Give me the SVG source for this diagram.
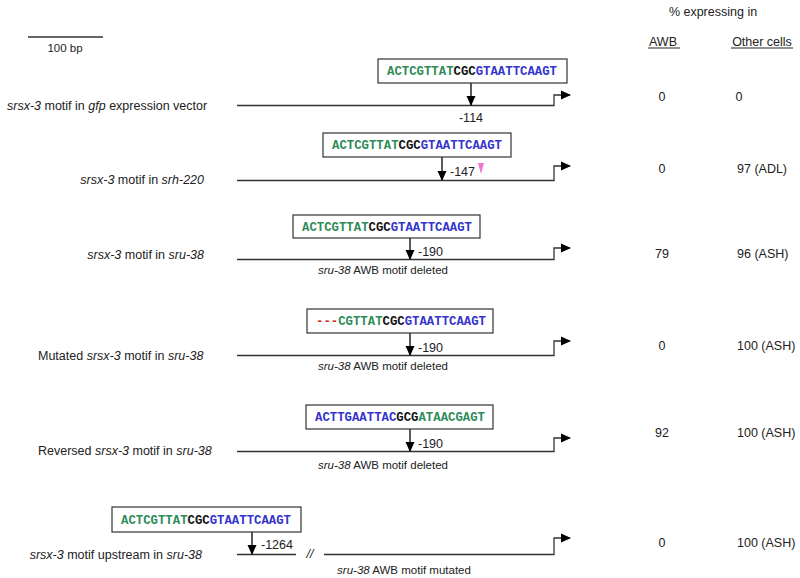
<svg xmlns="http://www.w3.org/2000/svg" width="800" height="578" viewBox="0 0 800 578">
<defs>
<marker id="ah" viewBox="0 0 10 10" refX="9" refY="5" markerWidth="10" markerHeight="10" markerUnits="userSpaceOnUse" orient="auto"><path d="M0,0.5 L10,5 L0,9.5 Z" fill="#000" stroke="none"/></marker>
</defs>
<style>
.t{font-family:"Liberation Sans",Arial,sans-serif;font-size:12.5px;fill:#222}
.s{font-family:"Liberation Sans",Arial,sans-serif;font-size:11.5px;fill:#222}
.i{font-style:italic}
.seq{font-family:"Liberation Mono","Courier New",monospace;font-size:12.3px;font-weight:bold}
.g{fill:#2e8b57}.b{fill:#3333cc}.k{fill:#111}.r{fill:#dd2222}
.box{fill:#fff;stroke:#333;stroke-width:1.2}
.ln{fill:none;stroke:#333;stroke-width:1.3}
.ar{fill:none;stroke:#000;stroke-width:1.3}
.m{text-anchor:middle}
.e{text-anchor:end}
</style>
<rect width="800" height="578" fill="#fff"/>
<g id="scale">
<line x1="28" y1="37" x2="103" y2="37" class="ln"/>
<text x="65" y="52" class="s m">100 bp</text>
</g>
<g id="header">
<text x="713" y="16" class="t m">% expressing in</text>
<text x="663" y="46" class="t m">AWB</text>
<line x1="648" y1="48" x2="680" y2="48" stroke="#222" stroke-width="1"/>
<text x="762" y="46" class="t m">Other cells</text>
<line x1="731" y1="48" x2="793" y2="48" stroke="#222" stroke-width="1"/>
</g>
<g id="connectors">
<polyline points="237,105.5 554,105.5 554,95 570,95" class="ln" marker-end="url(#ah)"/>
<line x1="471" y1="83" x2="471" y2="105" class="ar" marker-end="url(#ah)"/>
<polyline points="237,180.5 554,180.5 554,166 570,166" class="ln" marker-end="url(#ah)"/>
<line x1="442" y1="157" x2="442" y2="180" class="ar" marker-end="url(#ah)"/>
<polyline points="237,259.5 554,259.5 554,248 570,248" class="ln" marker-end="url(#ah)"/>
<line x1="410" y1="237" x2="410" y2="259" class="ar" marker-end="url(#ah)"/>
<polyline points="237,355.5 554,355.5 554,341 570,341" class="ln" marker-end="url(#ah)"/>
<line x1="410" y1="333" x2="410" y2="355" class="ar" marker-end="url(#ah)"/>
<polyline points="237,451.5 554,451.5 554,438 570,438" class="ln" marker-end="url(#ah)"/>
<line x1="410" y1="429" x2="410" y2="451" class="ar" marker-end="url(#ah)"/>
<line x1="237" y1="554.5" x2="296" y2="554.5" class="ln"/>
<polyline points="324,554.5 554,554.5 554,538 570,538" class="ln" marker-end="url(#ah)"/>
<line x1="252" y1="532" x2="252" y2="554" class="ar" marker-end="url(#ah)"/>
</g>
<g id="row1">
<text x="7" y="110" class="t"><tspan class="i">srsx-3</tspan> motif in <tspan class="i">gfp</tspan> expression vector</text>
<rect x="378" y="59" width="189" height="24" class="box"/>
<text x="387" y="75" class="seq" textLength="170"><tspan class="g">ACTCGTTAT</tspan><tspan class="k">CGC</tspan><tspan class="b">GTAATTCAAGT</tspan></text>
<text x="471" y="122" class="t m">-114</text>
<text x="662" y="101" class="t m">0</text>
<text x="739" y="101" class="t m">0</text>
</g>
<g id="row2">
<text x="204" y="184" class="t e"><tspan class="i">srsx-3</tspan> motif in <tspan class="i">srh-220</tspan></text>
<rect x="323" y="133" width="188" height="24" class="box"/>
<text x="332" y="149" class="seq" textLength="170"><tspan class="g">ACTCGTTAT</tspan><tspan class="k">CGC</tspan><tspan class="b">GTAATTCAAGT</tspan></text>
<text x="450" y="176" class="t">-147</text>
<path d="M478,163 L484,163 L481,174 Z" fill="#ee77cc"/>
<text x="662" y="173" class="t m">0</text>
<text x="737" y="173" class="t">97 (ADL)</text>
</g>
<g id="row3">
<text x="204" y="259" class="t e"><tspan class="i">srsx-3</tspan> motif in <tspan class="i">sru-38</tspan></text>
<rect x="293" y="215" width="187" height="23" class="box"/>
<text x="302" y="231" class="seq" textLength="170"><tspan class="g">ACTCGTTAT</tspan><tspan class="k">CGC</tspan><tspan class="b">GTAATTCAAGT</tspan></text>
<text x="418" y="256" class="t">-190</text>
<text x="383" y="274" class="s m"><tspan class="i">sru-38</tspan> AWB motif deleted</text>
<text x="662" y="258" class="t m">79</text>
<text x="737" y="258" class="t">96 (ASH)</text>
</g>
<g id="row4">
<text x="38" y="360" class="t"><tspan>Mutated </tspan><tspan class="i">srsx-3</tspan> motif in <tspan class="i">sru-38</tspan></text>
<rect x="307" y="309" width="186" height="24" class="box"/>
<text x="316" y="325" class="seq" textLength="170"><tspan class="r">---</tspan><tspan class="g">CGTTAT</tspan><tspan class="k">CGC</tspan><tspan class="b">GTAATTCAAGT</tspan></text>
<text x="418" y="352" class="t">-190</text>
<text x="383" y="370" class="s m"><tspan class="i">sru-38</tspan> AWB motif deleted</text>
<text x="662" y="350" class="t m">0</text>
<text x="737" y="350" class="t">100 (ASH)</text>
</g>
<g id="row5">
<text x="38" y="455" class="t">Reversed <tspan class="i">srsx-3</tspan> motif in <tspan class="i">sru-38</tspan></text>
<rect x="306" y="405" width="187" height="24" class="box"/>
<text x="315" y="421" class="seq" textLength="170"><tspan class="b">ACTTGAATTAC</tspan><tspan class="k">GCG</tspan><tspan class="g">ATAACGAGT</tspan></text>
<text x="418" y="448" class="t">-190</text>
<text x="383" y="469" class="s m"><tspan class="i">sru-38</tspan> AWB motif deleted</text>
<text x="662" y="437" class="t m">92</text>
<text x="737" y="437" class="t">100 (ASH)</text>
</g>
<g id="row6">
<text x="202" y="559" class="t e"><tspan class="i">srsx-3</tspan> motif upstream in <tspan class="i">sru-38</tspan></text>
<rect x="112" y="507" width="189" height="25" class="box"/>
<text x="121" y="524" class="seq" textLength="170"><tspan class="g">ACTCGTTAT</tspan><tspan class="k">CGC</tspan><tspan class="b">GTAATTCAAGT</tspan></text>
<text x="261" y="549" class="t">-1264</text>
<text x="310" y="558" class="t m i">//</text>
<text x="404" y="574" class="s m"><tspan class="i">sru-38</tspan> AWB motif mutated</text>
<text x="662" y="547" class="t m">0</text>
<text x="737" y="547" class="t">100 (ASH)</text>
</g>
</svg>
